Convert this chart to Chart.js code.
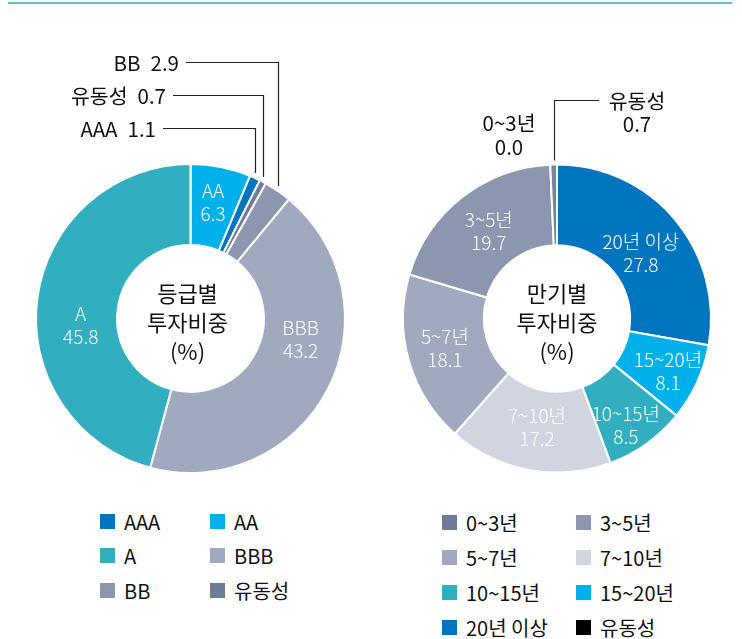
<!DOCTYPE html>
<html>
<head>
<meta charset="utf-8">
<script src="https://cdn.jsdelivr.net/npm/chart.js@4.4.0/dist/chart.umd.min.js"></script>
<style>
  body { margin: 0; background: #fff; width: 742px; height: 639px; overflow: hidden; position: relative;
         font-family: "Noto Sans CJK KR", sans-serif; color: #111; }
  .topline { position: absolute; left: 8px; top: 2px; width: 724px; height: 2px; background: #62c0cb; }
  canvas { position: absolute; left: 0; top: 0; }
  .legend { position: absolute; display: grid; font-size: 20px; }
  .legend div { display: flex; align-items: center; white-space: nowrap; }
  .legend span.box { width: 15px; height: 15px; margin-right: 9px; flex: none; }
</style>
</head>
<body>
<div class="topline"></div>
<canvas id="grade" width="742" height="500"></canvas>
<canvas id="maturity" width="742" height="500"></canvas>
<div class="legend" id="gradeLegend" style="left:100px;top:504px;grid-template-columns:110px 110px;grid-auto-rows:34.5px"></div>
<div class="legend" id="maturityLegend" style="left:442px;top:505px;grid-template-columns:134px 134px;grid-auto-rows:35px"></div>
<script>
// 등급별 (clockwise from 12 o'clock)
var gradeLabels = ["AA", "AAA", "유동성", "BB", "BBB", "A"];
var gradeValues = [6.3, 1.1, 0.7, 2.9, 43.2, 45.8];
var gradeColors = ["#00b0ea", "#0075bf", "#6e7c99", "#8c97af", "#a1a9be", "#31afc1"];
var gradeLegendOrder = ["AAA", "AA", "A", "BBB", "BB", "유동성"];

// 만기별 (clockwise from 12 o'clock)
var maturityLabels = ["20년 이상", "15~20년", "10~15년", "7~10년", "5~7년", "3~5년", "0~3년", "유동성"];
var maturityValues = [27.8, 8.1, 8.5, 17.2, 18.1, 19.7, 0.0, 0.7];
var maturityColors = ["#0075bf", "#00b0ea", "#31afc1", "#d1d5e0", "#a1a9be", "#8c97af", "#6e7c99", "#76839f"];
var maturityLegendColors = ["#0075bf", "#00b0ea", "#31afc1", "#d1d5e0", "#a1a9be", "#8c97af", "#6e7c99", "#000000"];
var maturityLegendOrder = ["0~3년", "3~5년", "5~7년", "7~10년", "10~15년", "15~20년", "20년 이상", "유동성"];

var FONT = '"Noto Sans CJK KR", sans-serif';

// draws centre title, in-slice labels and the callouts
var donutText = {
  id: "donutText",
  afterDraw: function (chart, args, opts) {
    var ctx = chart.ctx;
    var arcs = chart.getDatasetMeta(0).data;
    var labels = chart.data.labels;
    var values = chart.data.datasets[0].data;
    var cx = arcs[0].x, cy = arcs[0].y;
    ctx.save();
    ctx.textAlign = "center";
    ctx.textBaseline = "middle";

    // centre title
    ctx.fillStyle = "#111";
    ctx.font = "400 22px " + FONT;
    opts.title.forEach(function (t, i) {
      ctx.fillText(t, cx + opts.titleDx, cy - 25 + i * 29);
    });

    // labels inside slices (angle from top clockwise, radius)
    ctx.fillStyle = "#fff";
    ctx.font = "300 19px " + FONT;
    opts.inner.forEach(function (p) {
      var a = (p.deg - 90) * Math.PI / 180;
      var x = cx + p.r * Math.cos(a), y = cy + p.r * Math.sin(a);
      ctx.fillText(labels[p.index], x, y - 11.5);
      ctx.fillText(values[p.index].toFixed(1), x, y + 11.5);
    });

    // callouts
    ctx.fillStyle = "#111";
    ctx.strokeStyle = "#222";
    ctx.lineWidth = 1.2;
    ctx.font = "400 20.5px " + FONT;
    opts.callouts.forEach(function (c) {
      var arc = arcs[c.index];
      var mid = (arc.startAngle + arc.endAngle) / 2;
      var ax = Math.round(arc.x + arc.outerRadius * Math.cos(mid)) + 0.5;
      var ay = arc.y + arc.outerRadius * Math.sin(mid);
      if (c.kind === "left") {
        ctx.beginPath();
        ctx.moveTo(c.x + 7, c.y + 0.5);
        ctx.lineTo(ax, c.y + 0.5);
        ctx.lineTo(ax, ay - 5);
        ctx.stroke();
        ctx.textAlign = "right";
        ctx.fillText(values[c.index].toFixed(1), c.x, c.y + 1);
        var w = ctx.measureText(values[c.index].toFixed(1)).width;
        ctx.fillText(labels[c.index], c.x - w - 10, c.y + 1);
      } else if (c.kind === "right") {
        ctx.beginPath();
        ctx.moveTo(ax, ay - 4);
        ctx.lineTo(ax, c.y + 0.5);
        ctx.lineTo(c.x, c.y + 0.5);
        ctx.stroke();
        ctx.textAlign = "center";
        ctx.fillText(labels[c.index], c.tx, c.y + 1);
        ctx.fillText(values[c.index].toFixed(1), c.tx, c.y + 24);
      } else {
        ctx.textAlign = "center";
        ctx.fillText(labels[c.index], c.x, c.y);
        ctx.fillText(values[c.index].toFixed(1), c.x, c.y + 24);
      }
    });
    ctx.restore();
  }
};

function donut(id, labels, values, colors, padding, text) {
  return new Chart(document.getElementById(id), {
    type: "doughnut",
    data: {
      labels: labels,
      datasets: [{
        data: values,
        backgroundColor: colors,
        borderColor: "#fff",
        borderWidth: 2
      }]
    },
    options: {
      responsive: false,
      animation: false,
      cutout: "47.5%",
      layout: { padding: padding },
      plugins: {
        legend: { display: false },
        tooltip: { enabled: false },
        donutText: text
      }
    },
    plugins: [donutText]
  });
}

donut("grade", gradeLabels, gradeValues, gradeColors,
  { left: 35, right: 396, top: 163, bottom: 26 },
  {
    title: ["등급별", "투자비중", "(%)"], titleDx: -3,
    inner: [
      { index: 0, deg: 11, r: 118 },
      { index: 5, deg: 266.6, r: 110 },
      { index: 4, deg: 100.5, r: 112 }
    ],
    callouts: [
      { index: 3, kind: "left", x: 179, y: 62 },
      { index: 2, kind: "left", x: 166, y: 95 },
      { index: 1, kind: "left", x: 156, y: 128 }
    ]
  });

donut("maturity", maturityLabels, maturityValues, maturityColors,
  { left: 402, right: 30, top: 163, bottom: 26 },
  {
    title: ["만기별", "투자비중", "(%)"], titleDx: 0,
    inner: [
      { index: 0, deg: 52.3, r: 106 },
      { index: 1, deg: 115.5, r: 123 },
      { index: 2, deg: 147.2, r: 127 },
      { index: 3, deg: 190.4, r: 111 },
      { index: 4, deg: 255, r: 116 },
      { index: 5, deg: 322.1, r: 111 }
    ],
    callouts: [
      { index: 7, kind: "right", x: 599, y: 100, tx: 637 },
      { index: 6, kind: "none", x: 509, y: 123 }
    ]
  });

function buildLegend(elId, order, labels, colors) {
  var el = document.getElementById(elId);
  order.forEach(function (name) {
    var i = labels.indexOf(name);
    var item = document.createElement("div");
    var box = document.createElement("span");
    box.className = "box";
    box.style.background = colors[i];
    item.appendChild(box);
    item.appendChild(document.createTextNode(name));
    el.appendChild(item);
  });
}
buildLegend("gradeLegend", gradeLegendOrder, gradeLabels, gradeColors);
buildLegend("maturityLegend", maturityLegendOrder, maturityLabels, maturityLegendColors);
</script>
</body>
</html>
